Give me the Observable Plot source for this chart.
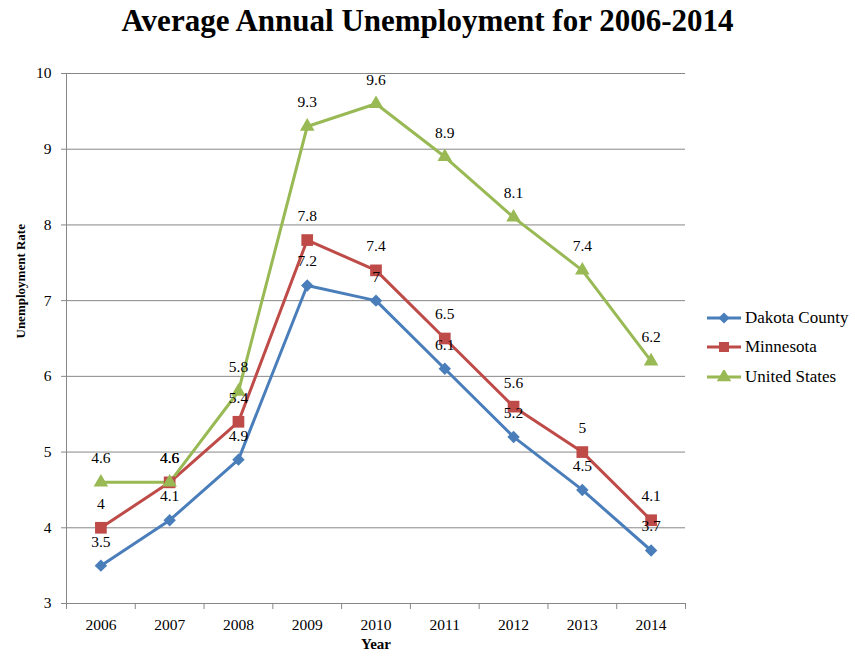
<!DOCTYPE html>
<html><head><meta charset="utf-8">
<script src="https://cdn.jsdelivr.net/npm/d3@7"></script>
<script src="https://cdn.jsdelivr.net/npm/@observablehq/plot@0.6"></script>
<style>
body{margin:0;background:#fff;font-family:"Liberation Serif","Times New Roman",serif;}
#wrap{position:relative;width:855px;height:658px;}
#title{height:44px;line-height:42px;text-align:center;font-weight:bold;font-size:31px;color:#000;}
#legend{position:absolute;left:706px;top:303px;font-size:17px;color:#000;}
#legend div{height:29.5px;display:flex;align-items:center;}
#legend svg{margin-right:3px;}
#chart svg, #chart svg text{font-family:"Liberation Serif","Times New Roman",serif !important;}
</style></head>
<body><div id="wrap"><div id="title">Average Annual Unemployment for 2006-2014</div><div id="chart"></div><div id="legend"></div></div>
<script>
const years = [2006, 2007, 2008, 2009, 2010, 2011, 2012, 2013, 2014];
const seriesNames = ["Dakota County", "Minnesota", "United States"];
const dakota = [3.5, 4.1, 4.9, 7.2, 7.0, 6.1, 5.2, 4.5, 3.7];
const minnesota = [4.0, 4.6, 5.4, 7.8, 7.4, 6.5, 5.6, 5.0, 4.1];
const unitedStates = [4.6, 4.6, 5.8, 9.3, 9.6, 8.9, 8.1, 7.4, 6.2];
const yTicks = [3, 4, 5, 6, 7, 8, 9, 10];
const colors = ["#4A7EBB", "#BE4B48", "#98B954"];
const symbols = ["diamond2", "square", "triangle"];
const markerR = [5.6, 6.6, 5.4];

const seriesValues = [dakota, minnesota, unitedStates];
const data = [];
seriesNames.forEach((s, i) => years.forEach((y, j) => data.push({series: s, year: y, value: seriesValues[i][j]})));
const boundaries = [years[0] - 0.5, ...years.map(y => y + 0.5)];

const chart = Plot.plot({
  width: 855, height: 614,
  marginTop: 29, marginBottom: 55, marginLeft: 66, marginRight: 170,
  style: {fontSize: "15px", color: "#000", background: "#fff"},
  x: {type: "linear", domain: [years[0] - 0.5, years[years.length - 1] + 0.5]},
  y: {domain: [3, 10]},
  color: {domain: seriesNames, range: colors},
  marks: [
    Plot.gridY(yTicks, {stroke: "#878787", strokeOpacity: 1, strokeWidth: 1}),
    Plot.axisY({ticks: yTicks, tickSize: 5, tickPadding: 10, tickFormat: d => String(d), stroke: "#878787", fontSize: 15.5, label: null}),
    Plot.axisX({ticks: years, tickSize: 0, tickPadding: 15, tickFormat: d => String(d), fontSize: 15.5, label: null}),
    Plot.axisX({ticks: boundaries, tickSize: 6, tickFormat: () => "", stroke: "#878787", label: null}),
    Plot.ruleX([years[0] - 0.5], {stroke: "#878787"}),
    Plot.ruleY([3], {stroke: "#878787"}),
    Plot.line(data, {x: "year", y: "value", z: "series", stroke: "series", strokeWidth: 3, strokeLinejoin: "round"}),
    ...seriesNames.map((s, i) => Plot.dot(data.filter(d => d.series === s), {x: "year", y: "value", symbol: symbols[i], fill: colors[i], stroke: "none", r: markerR[i]})),
    Plot.text(data, {x: "year", y: "value", text: d => String(d.value), dy: -24, fill: "#000", fontSize: 15.5}),
    Plot.text(["Unemployment Rate"], {frameAnchor: "left", dx: -46, rotate: -90, fontWeight: "bold", fontSize: 13, fill: "#000"}),
    Plot.text(["Year"], {frameAnchor: "bottom", dy: 45, fontWeight: "bold", fontSize: 15, fill: "#000"})
  ]
});
document.getElementById("chart").appendChild(chart);

const legend = document.getElementById("legend");
seriesNames.forEach((s, i) => {
  const row = document.createElement("div");
  const sym = d3.symbol().type([d3.symbolDiamond2, d3.symbolSquare, d3.symbolTriangle][i]).size([80, 100, 90][i])();
  row.innerHTML = `<svg width="36" height="14"><line x1="1" x2="35" y1="7" y2="7" stroke="${colors[i]}" stroke-width="3"/><path d="${sym}" transform="translate(18,7)" fill="${colors[i]}"/></svg><span>${s}</span>`;
  legend.appendChild(row);
});
</script></body></html>
